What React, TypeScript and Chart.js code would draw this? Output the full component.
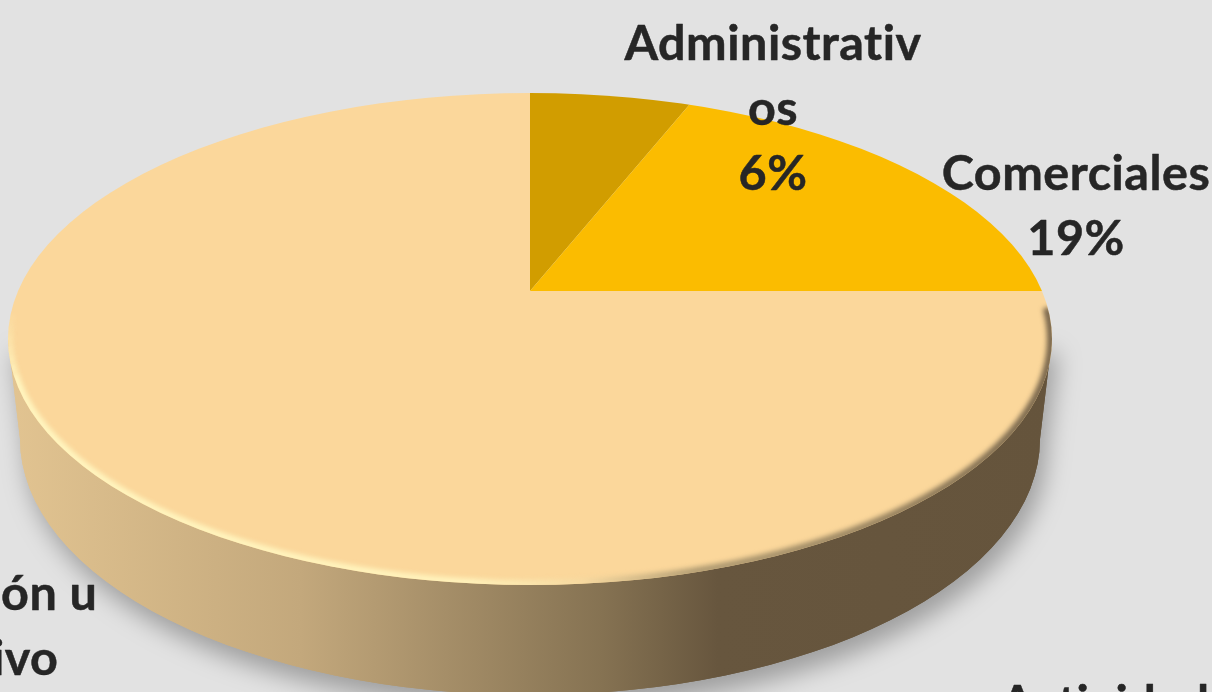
import React, { useEffect, useRef } from "react";
import { Chart, registerables } from "chart.js";

Chart.register(...registerables);

const categories = ["Administrativos", "Comerciales", "Producción u operativo"];
const shares = [6, 19, 75];
const sliceColors = ["#D19D00", "#FBBC00", "#FBD79B"];

const W = 1212;
const H = 692;
const BG = "#E2E2E2";
const TEXT = "#262626";
const FONT = 'bold 48.5px Lato, "Noto Sans", sans-serif';
const LINE = 65;

const TILT = 0.463;
const TOP = { cx: 530, cy: 339, rx: 522, ry: 246 };
const BOTTOM = { cx: 530, cy: 439, rx: 510, ry: 256 };

const wallStops: [number, string][] = [
  [0, "#E2C491"],
  [0.28, "#C3A87C"],
  [0.42, "#A58E68"],
  [0.57, "#857252"],
  [0.68, "#67563E"],
  [1, "#65543C"],
];
const rimStops: [number, string][] = [
  [0, "#FFF6C0"],
  [0.44, "#FFF3BC"],
  [0.55, "#F6D9A0"],
  [0.66, "#B09B72"],
  [0.85, "#94805E"],
  [1, "#75634A"],
];

const labelLayout = [
  { x: 773, y: 60, lines: ["Administrativ", "os", "6%"] },
  { x: 1076, y: 190, lines: ["Comerciales", "19%"] },
  { x: -47, y: 610, lines: ["Producción u", "operativo"] },
  { x: 1105, y: 720, lines: ["Actividad"] },
];

function hGradient(ctx: CanvasRenderingContext2D, stops: [number, string][]) {
  const g = ctx.createLinearGradient(TOP.cx - TOP.rx, 0, TOP.cx + TOP.rx, 0);
  stops.forEach(([p, c]) => g.addColorStop(p, c));
  return g;
}

function wallPath(ctx: CanvasRenderingContext2D) {
  ctx.beginPath();
  ctx.moveTo(TOP.cx - TOP.rx, TOP.cy);
  ctx.lineTo(BOTTOM.cx - BOTTOM.rx, BOTTOM.cy);
  ctx.ellipse(BOTTOM.cx, BOTTOM.cy, BOTTOM.rx, BOTTOM.ry, 0, Math.PI, 0, true);
  ctx.lineTo(TOP.cx + TOP.rx, TOP.cy);
  ctx.closePath();
}

function rimArc(ctx: CanvasRenderingContext2D, inset: number, a0: number, a1: number) {
  ctx.beginPath();
  ctx.ellipse(TOP.cx, TOP.cy, TOP.rx - inset, TOP.ry - inset, 0, a0, a1);
  ctx.stroke();
}

const pie3d = {
  id: "pie3d",
  beforeDatasetsDraw(chart: any) {
    const ctx: CanvasRenderingContext2D = chart.ctx;
    const arc = chart.getDatasetMeta(0).data[0];
    ctx.save();
    ctx.fillStyle = BG;
    ctx.fillRect(0, 0, W, H);
    ctx.save();
    ctx.shadowColor = "rgba(0,0,0,0.30)";
    ctx.shadowBlur = 24;
    ctx.shadowOffsetX = 6;
    ctx.shadowOffsetY = 14;
    ctx.fillStyle = hGradient(ctx, wallStops);
    wallPath(ctx);
    ctx.fill();
    ctx.restore();
    ctx.fillStyle = hGradient(ctx, wallStops);
    wallPath(ctx);
    ctx.fill();

    ctx.beginPath();
    ctx.ellipse(TOP.cx, TOP.cy, TOP.rx, TOP.ry, 0, 0, Math.PI * 2);
    ctx.clip();
    ctx.translate(arc.x, arc.y);
    ctx.scale(1, TILT);
    ctx.translate(-arc.x, -arc.y);
  },
  afterDatasetsDraw(chart: any) {
    const ctx: CanvasRenderingContext2D = chart.ctx;
    ctx.restore();
    ctx.save();
    ctx.beginPath();
    ctx.ellipse(TOP.cx, TOP.cy, TOP.rx, TOP.ry, 0, 0, Math.PI * 2);
    ctx.clip();
    ctx.filter = "blur(2.5px)";
    ctx.strokeStyle = hGradient(ctx, rimStops);
    ctx.lineWidth = 8;
    const start = -0.2;
    const end = Math.PI + 0.1;
    const fade = 0.24;
    rimArc(ctx, 1, start + fade * 0.3, end - fade);
    const steps = 6;
    for (let k = 0; k < steps; k++) {
      ctx.globalAlpha = 1 - (k + 1) / (steps + 1);
      const a = end - fade + (fade * k) / steps;
      rimArc(ctx, 1, a, a + fade / steps);
    }
    ctx.restore();
  },
  afterDraw(chart: any) {
    const ctx: CanvasRenderingContext2D = chart.ctx;
    ctx.save();
    ctx.font = FONT;
    (ctx as any).letterSpacing = "0.5px";
    ctx.fillStyle = TEXT;
    ctx.strokeStyle = TEXT;
    ctx.lineWidth = 0.5;
    ctx.lineJoin = "round";
    ctx.textAlign = "center";
    ctx.textBaseline = "alphabetic";
    labelLayout.forEach((l) =>
      l.lines.forEach((t, i) => {
        ctx.fillText(t, l.x, l.y + i * LINE);
        ctx.strokeText(t, l.x, l.y + i * LINE);
      })
    );
    ctx.restore();
  },
};

export default function App() {
  const ref = useRef<HTMLCanvasElement>(null);
  useEffect(() => {
    document.body.style.margin = "0";
    document.body.style.background = BG;
    const chart = new Chart(ref.current!, {
      type: "pie",
      data: {
        labels: categories,
        datasets: [
          { data: shares, backgroundColor: sliceColors, borderWidth: 0, radius: 800 },
        ],
      },
      options: {
        animation: false,
        responsive: false,
        layout: { padding: { left: 0, top: 0, right: W - 2 * TOP.cx, bottom: H - 2 * 291 } },
        plugins: { legend: { display: false }, tooltip: { enabled: false } },
      },
      plugins: [pie3d],
    } as any);
    return () => chart.destroy();
  }, []);
  return <canvas ref={ref} width={W} height={H} style={{ display: "block" }} />;
}
